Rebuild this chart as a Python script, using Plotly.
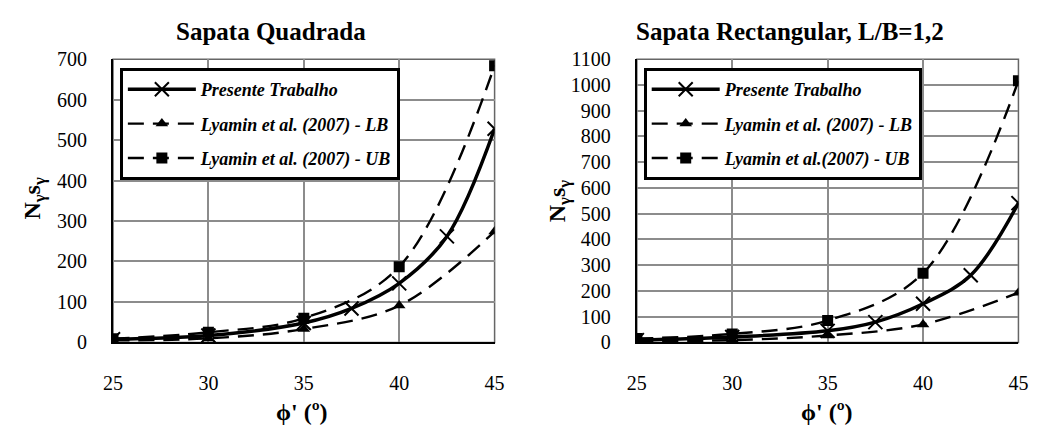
import plotly.graph_objects as go

# friction angle (degrees)
phi_main = [25, 30, 35, 37.5, 40, 42.5, 45]
phi_ref = [25, 30, 35, 40, 45]

# Square footing
sq_presente = [8, 17, 48, 84, 146, 262, 528]
sq_lb = [5, 10, 33, 91, 274]
sq_ub = [9, 25, 60, 187, 684]

# Rectangular footing, L/B = 1.2
rc_presente = [9, 21, 45, 79, 150, 261, 541]
rc_lb = [5, 9, 27, 70, 193]
rc_ub = [15, 33, 85, 269, 1016]

x_ticks = [25, 30, 35, 40, 45]

SERIF = "Liberation Serif, Times New Roman, serif"
W, H = 1051, 437
DASH = "16px,9px"

fig = go.Figure()


def add_panel(xa, ya, leg, pres, lb, ub, names):
    fig.add_trace(go.Scatter(
        x=phi_main, y=pres, name=names[0], xaxis=xa, yaxis=ya, legend=leg,
        legendgroup=leg + "a", mode="lines+markers",
        line=dict(color="black", width=3.5, shape="spline", smoothing=1),
        marker=dict(symbol="x-thin-open", size=14, color="black",
                    line=dict(color="black", width=2)),
    ))
    fig.add_trace(go.Scatter(
        x=phi_ref, y=lb, name=names[1], xaxis=xa, yaxis=ya, legend=leg,
        legendgroup=leg + "b", mode="lines+markers",
        line=dict(color="black", width=2.4, dash=DASH, shape="spline", smoothing=1),
        marker=dict(symbol="triangle-up", size=11, color="black"),
    ))
    fig.add_trace(go.Scatter(
        x=phi_ref, y=ub, name=names[2], xaxis=xa, yaxis=ya, legend=leg,
        legendgroup=leg + "c", mode="lines+markers",
        line=dict(color="black", width=2.4, dash=DASH, shape="spline", smoothing=1),
        marker=dict(symbol="square", size=11, color="black"),
    ))


add_panel("x", "y", "legend", sq_presente, sq_lb, sq_ub,
          ["Presente Trabalho", "Lyamin et al. (2007) - LB", "Lyamin et al. (2007) - UB"])
add_panel("x2", "y2", "legend2", rc_presente, rc_lb, rc_ub,
          ["Presente Trabalho", "Lyamin et al. (2007) - LB", "Lyamin et al.(2007) - UB"])

y_bot = 1 - 349 / H
y_top = 1 - 50.7 / H
dom_left = [105 / W, 494 / W]
dom_right = [639 / W, 1028 / W]

xaxis_common = dict(
    range=[25, 45], tickvals=x_ticks, showgrid=True, gridcolor="#8c8c8c", gridwidth=1.5,
    showline=True, linecolor="black", linewidth=2, zeroline=False,
    ticks="", ticklabelstandoff=22,
    tickfont=dict(family=SERIF, size=20, color="black"),
)
yaxis_common = dict(
    showgrid=True, gridcolor="#8c8c8c", gridwidth=1.5, dtick=100,
    showline=True, linecolor="black", linewidth=2, zeroline=False,
    ticks="", ticklabelstandoff=20,
    tickfont=dict(family=SERIF, size=20, color="black"),
)

legend_common = dict(
    bgcolor="white", bordercolor="black", borderwidth=3,
    font=dict(family=SERIF, size=18, color="black"),
    xanchor="left", yanchor="top", itemwidth=68, tracegroupgap=8,
    traceorder="grouped",
)

fig.update_layout(
    width=W, height=H, margin=dict(l=0, r=0, t=0, b=0),
    paper_bgcolor="white", plot_bgcolor="white",
    font=dict(family=SERIF, color="black"),
    xaxis=dict(domain=dom_left, anchor="y", **xaxis_common),
    yaxis=dict(domain=[y_bot, y_top], anchor="x", range=[0, 700], **yaxis_common),
    xaxis2=dict(domain=dom_right, anchor="y2", **xaxis_common),
    yaxis2=dict(domain=[y_bot, y_top], anchor="x2", range=[0, 1100], **yaxis_common),
    legend=dict(x=112 / W, y=1 - 60 / H, **legend_common),
    legend2=dict(x=646 / W, y=1 - 60 / H, **legend_common),
)

# italic bold legend labels
for tr in fig.data:
    tr.name = "<b><i>" + tr.name + "</i></b>"

# thin grey frame around each plot area
for xr, yr in (("x domain", "y domain"), ("x2 domain", "y2 domain")):
    fig.add_shape(type="rect", xref=xr, yref=yr, x0=0, x1=1, y0=0, y1=1,
                  line=dict(color="#666666", width=1.5), layer="below")

title_font = dict(family=SERIF, size=25, color="black")
axis_font = dict(family=SERIF, size=24, color="black")
annots = [
    dict(text="<b>Sapata Quadrada</b>", x=266 / W, y=1 - 22 / H, font=title_font),
    dict(text="<b>Sapata Rectangular, L/B=1,2</b>", x=795 / W, y=1 - 22 / H, font=title_font),
    dict(text="<b>ϕ' (º)</b>", x=298 / W, y=1 - 422 / H, font=axis_font),
    dict(text="<b>ϕ' (º)</b>", x=833 / W, y=1 - 422 / H, font=axis_font),
    dict(text="<b>N<sub>γ</sub>s<sub>γ</sub></b>", x=25 / W, y=1 - 197 / H,
         textangle=-90, font=axis_font),
    dict(text="<b>N<sub>γ</sub>s<sub>γ</sub></b>", x=560 / W, y=1 - 200 / H,
         textangle=-90, font=axis_font),
]
for a in annots:
    fig.add_annotation(xref="paper", yref="paper", showarrow=False,
                       xanchor="center", yanchor="middle", **a)

fig.write_html("out.html")
